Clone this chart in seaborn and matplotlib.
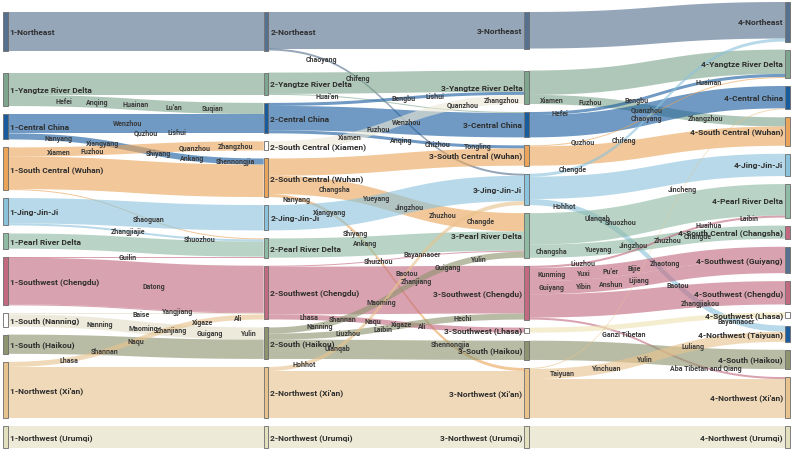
import numpy as np
import matplotlib
matplotlib.use("Agg")
import matplotlib.pyplot as plt
from matplotlib.patches import Rectangle, Polygon
import seaborn as sns

sns.set_theme(style="white")
plt.rcParams['font.family'] = ['Roboto', 'DejaVu Sans']

# regions in each of the 4 stages, top to bottom
stage1_nodes = ["Northeast", "Yangtze River Delta", "Central China", "South Central (Wuhan)",
                "Jing-Jin-Ji", "Pearl River Delta", "Southwest (Chengdu)", "South (Nanning)",
                "South (Haikou)", "Northwest (Xi'an)", "Northwest (Urumqi)"]
stage2_nodes = ["Northeast", "Yangtze River Delta", "Central China", "South Central (Xiamen)",
                "South Central (Wuhan)", "Jing-Jin-Ji", "Pearl River Delta", "Southwest (Chengdu)",
                "South (Haikou)", "Northwest (Xi'an)", "Northwest (Urumqi)"]
stage3_nodes = ["Northeast", "Yangtze River Delta", "Central China", "South Central (Wuhan)",
                "Jing-Jin-Ji", "Pearl River Delta", "Southwest (Chengdu)", "Southwest (Lhasa)",
                "South (Haikou)", "Northwest (Xi'an)", "Northwest (Urumqi)"]
stage4_nodes = ["Northeast", "Yangtze River Delta", "Central China", "South Central (Wuhan)",
                "Jing-Jin-Ji", "Pearl River Delta", "South Central (Changsha)", "Southwest (Guiyang)",
                "Southwest (Chengdu)", "Southwest (Lhasa)", "Northwest (Taiyuan)", "South (Haikou)",
                "Northwest (Xi'an)", "Northwest (Urumqi)"]

# (from, to, number of cities, cities named on the flow)
flows_12 = [
    ("Northeast", "Northeast", 38, []),
    ("Yangtze River Delta", "Yangtze River Delta", 22, []),
    ("Yangtze River Delta", "Central China", 11, ["Hefei", "Anqing", "Huainan", "Lu'an", "Suqian"]),
    ("Central China", "Central China", 17, ["Wenzhou"]),
    ("Central China", "Central China", 2, ["Quzhou", "Lishui"]),
    ("Central China", "South Central (Wuhan)", 6, ["Nanyang", "Xiangyang", "Shiyang", "Ankang", "Shennongjia"]),
    ("South Central (Wuhan)", "South Central (Xiamen)", 9, ["Xiamen", "Fuzhou", "Quanzhou", "Zhangzhou"]),
    ("South Central (Wuhan)", "South Central (Wuhan)", 32, []),
    ("South Central (Wuhan)", "Pearl River Delta", 1, ["Shaoguan"]),
    ("Jing-Jin-Ji", "Jing-Jin-Ji", 25, []),
    ("Jing-Jin-Ji", "Pearl River Delta", 2, ["Zhangjiajie", "Shuozhou"]),
    ("Pearl River Delta", "Pearl River Delta", 15, []),
    ("Southwest (Chengdu)", "Pearl River Delta", 1, ["Guilin"]),
    ("Southwest (Chengdu)", "Southwest (Chengdu)", 46, ["Datong"]),
    ("Southwest (Chengdu)", "Southwest (Chengdu)", 1, ["Yangjiang"]),
    ("South (Nanning)", "Southwest (Chengdu)", 1, ["Baise"]),
    ("South (Nanning)", "South (Haikou)", 12, ["Nanning", "Maoming", "Zhanjiang", "Guigang", "Yulin"]),
    ("South (Haikou)", "South (Haikou)", 19, []),
    ("Northwest (Xi'an)", "Southwest (Chengdu)", 5, ["Lhasa", "Shannan", "Naqu", "Xigaze", "Ali"]),
    ("Northwest (Xi'an)", "Northwest (Xi'an)", 50, []),
    ("Northwest (Urumqi)", "Northwest (Urumqi)", 22, []),
]

flows_23 = [
    ("Northeast", "Northeast", 36, []),
    ("Northeast", "Jing-Jin-Ji", 2, ["Chaoyang", "Chifeng"]),
    ("Yangtze River Delta", "Yangtze River Delta", 21, []),
    ("Yangtze River Delta", "Central China", 1, ["Huai'an"]),
    ("Central China", "Yangtze River Delta", 3, ["Bengbu", "Lishui"]),
    ("Central China", "Central China", 24, ["Wenzhou"]),
    ("Central China", "South Central (Wuhan)", 3, ["Anqing", "Chizhou", "Tongling"]),
    ("South Central (Xiamen)", "Yangtze River Delta", 9, ["Xiamen", "Fuzhou", "Quanzhou", "Zhangzhou"]),
    ("South Central (Wuhan)", "South Central (Wuhan)", 17, []),
    ("South Central (Wuhan)", "Pearl River Delta", 18, ["Changsha", "Yueyang", "Jingzhou", "Zhuzhou", "Changde"]),
    ("South Central (Wuhan)", "Northwest (Xi'an)", 3, ["Nanyang", "Xiangyang", "Shiyang", "Ankang", "Shennongjia"]),
    ("Jing-Jin-Ji", "Jing-Jin-Ji", 25, []),
    ("Pearl River Delta", "Pearl River Delta", 19, []),
    ("Southwest (Chengdu)", "Pearl River Delta", 1, ["Shuizhou"]),
    ("Southwest (Chengdu)", "Southwest (Chengdu)", 47, []),
    ("Southwest (Chengdu)", "Southwest (Lhasa)", 5, ["Lhasa", "Shannan", "Naqu", "Xigaze", "Ali"]),
    ("South (Haikou)", "Pearl River Delta", 6, ["Nanning", "Maoming", "Zhanjiang", "Guigang", "Yulin"]),
    ("South (Haikou)", "Southwest (Chengdu)", 6, ["Liuzhou", "Laibin", "Hechi"]),
    ("South (Haikou)", "South (Haikou)", 19, []),
    ("Northwest (Xi'an)", "Jing-Jin-Ji", 4, ["Hohhot", "Ulanqab", "Baotou", "Bayannaoer"]),
    ("Northwest (Xi'an)", "Northwest (Xi'an)", 46, []),
    ("Northwest (Urumqi)", "Northwest (Urumqi)", 22, []),
]

flows_34 = [
    ("Northeast", "Northeast", 36, []),
    ("Yangtze River Delta", "Yangtze River Delta", 24, []),
    ("Yangtze River Delta", "South Central (Wuhan)", 9, ["Xiamen", "Fuzhou", "Quanzhou", "Zhangzhou"]),
    ("Central China", "Yangtze River Delta", 3, ["Hefei", "Bengbu", "Huainan"]),
    ("Central China", "Central China", 22, []),
    ("South Central (Wuhan)", "Yangtze River Delta", 1, ["Quzhou"]),
    ("South Central (Wuhan)", "South Central (Wuhan)", 19, []),
    ("Jing-Jin-Ji", "Northeast", 3, ["Chengde", "Chifeng", "Chaoyang"]),
    ("Jing-Jin-Ji", "Jing-Jin-Ji", 22, []),
    ("Jing-Jin-Ji", "Northwest (Taiyuan)", 6, ["Hohhot", "Ulanqab", "Baotou", "Zhangjiakou", "Bayannaoer"]),
    ("Pearl River Delta", "Pearl River Delta", 31, ["Shuozhou"]),
    ("Pearl River Delta", "South Central (Changsha)", 13, ["Changsha", "Yueyang", "Jingzhou", "Zhuzhou", "Changde"]),
    ("Southwest (Chengdu)", "Pearl River Delta", 2, ["Liuzhou", "Huaihua", "Laibin"]),
    ("Southwest (Chengdu)", "Southwest (Guiyang)", 13, ["Kunming", "Yuxi", "Pu'er", "Bijie", "Zhaotong"]),
    ("Southwest (Chengdu)", "Southwest (Guiyang)", 13, ["Guiyang", "Yibin", "Anshun", "Lijiang"]),
    ("Southwest (Chengdu)", "Southwest (Chengdu)", 23, []),
    ("Southwest (Chengdu)", "Northwest (Xi'an)", 2, ["Ganzi Tibetan", "Aba Tibetan and Qiang"]),
    ("Southwest (Lhasa)", "Southwest (Lhasa)", 5, []),
    ("South (Haikou)", "South (Haikou)", 19, []),
    ("Northwest (Xi'an)", "Central China", 1, ["Jincheng"]),
    ("Northwest (Xi'an)", "Northwest (Taiyuan)", 10, ["Taiyuan", "Yinchuan", "Yulin", "Luliang"]),
    ("Northwest (Xi'an)", "Northwest (Xi'an)", 38, []),
    ("Northwest (Urumqi)", "Northwest (Urumqi)", 22, []),
]

# how far across the gap each city name sits
label_at = {
    (0, "Hefei"): [.22, .35, .50, .65, .80],
    (0, "Wenzhou"): [.47],
    (0, "Quzhou"): [.54, .66],
    (0, "Nanyang"): [.20, .37, .59, .72, .89],
    (0, "Xiamen"): [.20, .33, .73, .89],
    (0, "Shaoguan"): [.55],
    (0, "Zhangjiajie"): [.47, .75],
    (0, "Guilin"): [.47],
    (0, "Datong"): [.57],
    (0, "Yangjiang"): [.66],
    (0, "Baise"): [.52],
    (0, "Nanning"): [.36, .53, .64, .79, .94],
    (0, "Lhasa"): [.24, .38, .50, .76, .90],
    (1, "Chaoyang"): [.21, .35],
    (1, "Huai'an"): [.23],
    (1, "Bengbu"): [.53, .65],
    (1, "Wenzhou"): [.54],
    (1, "Anqing"): [.52, .66, .82],
    (1, "Xiamen"): [.32, .43, .76, .91],
    (1, "Changsha"): [.26, .42, .55, .68, .83],
    (1, "Nanyang"): [.11, .24, .34, .38, .71],
    (1, "Shuizhou"): [.43],
    (1, "Lhasa"): [.16, .29, .41, .52, .60],
    (1, "Nanning"): [.20, .44, .58, .70, .82],
    (1, "Liuzhou"): [.31, .45, .76],
    (1, "Hohhot"): [.14, .27, .54, .60],
    (2, "Xiamen"): [.09, .24, .46, .69],
    (2, "Hefei"): [.12, .42, .70],
    (2, "Quzhou"): [.21],
    (2, "Chengde"): [.17, .37, .46],
    (2, "Hohhot"): [.14, .27, .58, .67, .81],
    (2, "Shuozhou"): [.36],
    (2, "Changsha"): [.09, .27, .41, .54, .66],
    (2, "Liuzhou"): [.21, .70, .86],
    (2, "Kunming"): [.09, .21, .32, .41, .53],
    (2, "Guiyang"): [.09, .21, .32, .43],
    (2, "Ganzi Tibetan"): [.37, .69],
    (2, "Jincheng"): [.60],
    (2, "Taiyuan"): [.13, .30, .45, .64],
}

colors = {
    "Northeast": "#56708f",
    "Yangtze River Delta": "#7ea58d",
    "Central China": "#185c9e",
    "South Central (Wuhan)": "#eaa55a",
    "South Central (Xiamen)": "#ece8d6",
    "Jing-Jin-Ji": "#8cc3dc",
    "Pearl River Delta": "#8fbba4",
    "Southwest (Chengdu)": "#c26a80",
    "South (Nanning)": "#e2dec6",
    "South (Haikou)": "#8e946f",
    "Northwest (Xi'an)": "#e8c38d",
    "Northwest (Urumqi)": "#e3e0bf",
    "Southwest (Lhasa)": "#efe2b4",
    "South Central (Changsha)": "#c4687f",
    "Southwest (Guiyang)": "#56708f",
    "Northwest (Taiyuan)": "#185c9e",
}
white_bars = {"South (Nanning)", "South Central (Xiamen)", "Southwest (Lhasa)"}

stages = [stage1_nodes, stage2_nodes, stage3_nodes, stage4_nodes]
flows = [flows_12, flows_23, flows_34]

W, H = 796, 456
top, top_short, bottom, gap = 3, 13, 449, 8
bar_w = 4.5
bar_x = [3, 263.7, 524.3, 785]

# node sizes: the larger of inflow and outflow
size = [dict.fromkeys(st, 0) for st in stages]
for i, fl in enumerate(flows):
    out_s = {}
    in_s = {}
    for s, t, v, _ in fl:
        out_s[s] = out_s.get(s, 0) + v
        in_s[t] = in_s.get(t, 0) + v
    for n, v in out_s.items():
        size[i][n] = max(size[i][n], v)
    for n, v in in_s.items():
        size[i + 1][n] = max(size[i + 1][n], v)

k = min((bottom - top - gap * (len(st) - 1)) / sum(size[i].values()) for i, st in enumerate(stages))

pos = []
for i, st in enumerate(stages):
    p = {}
    y = bottom
    for n in reversed(st):
        h = size[i][n] * k
        p[n] = [y - h, y]
        y = y - h - gap
    first = st[0]
    if p[first][0] > top_short:
        h = p[first][1] - p[first][0]
        p[first] = [top_short, top_short + h]
    pos.append(p)


def band(xa, xb, ya0, ya1, yb0, yb1, n=80):
    s = np.linspace(0, 1, n)
    fx = 1.5 * s * (1 - s) + s ** 3
    fy = 3 * s ** 2 - 2 * s ** 3
    x = xa + (xb - xa) * fx
    return x, ya0 + (yb0 - ya0) * fy, ya1 + (yb1 - ya1) * fy


fig = plt.figure(figsize=(7.96, 4.56), dpi=100)
ax = fig.add_axes([0, 0, 1, 1])
ax.set_xlim(0, W)
ax.set_ylim(H, 0)
ax.axis('off')

city_labels = []
for i, fl in enumerate(flows):
    src_pos, dst_pos = pos[i], pos[i + 1]
    out_order = sorted(range(len(fl)), key=lambda j: (dst_pos[fl[j][1]][0], j))
    in_order = sorted(range(len(fl)), key=lambda j: (src_pos[fl[j][0]][0], j))
    y_src = {}
    used = {}
    for j in out_order:
        s = fl[j][0]
        y0 = src_pos[s][0] + used.get(s, 0)
        used[s] = used.get(s, 0) + fl[j][2] * k
        y_src[j] = (y0, y0 + fl[j][2] * k)
    y_dst = {}
    used = {}
    for j in in_order:
        t = fl[j][1]
        y0 = dst_pos[t][0] + used.get(t, 0)
        used[t] = used.get(t, 0) + fl[j][2] * k
        y_dst[j] = (y0, y0 + fl[j][2] * k)

    xa = bar_x[i] + bar_w
    xb = bar_x[i + 1]
    for j, (s, t, v, cities) in enumerate(fl):
        x, yt, yb = band(xa, xb, y_src[j][0], y_src[j][1], y_dst[j][0], y_dst[j][1])
        verts = np.vstack([np.column_stack([x, yt]), np.column_stack([x[::-1], yb[::-1]])])
        ax.add_patch(Polygon(verts, closed=True, facecolor=colors[s], alpha=0.62,
                             edgecolor='none', zorder=1))
        if cities:
            fr = label_at.get((i, cities[0]), np.linspace(0.2, 0.88, len(cities)))
            mid = (yt + yb) / 2
            for c, f in zip(cities, fr):
                xl = xa + f * (xb - xa)
                city_labels.append((xl, np.interp(xl, x, mid), c))

# node bars and names
for i, st in enumerate(stages):
    for n in st:
        y0, y1 = pos[i][n]
        face = 'white' if n in white_bars else colors[n]
        ax.add_patch(Rectangle((bar_x[i], y0), bar_w, y1 - y0, facecolor=face,
                               edgecolor='#6b6b6b', linewidth=0.6, zorder=3))
        if i < 2:
            ax.text(bar_x[i] + bar_w + 2, (y0 + y1) / 2, f"{i + 1}-{n}", ha='left', va='center',
                    fontsize=6.0, fontweight='bold', color='#2e2e2e', zorder=5)
        else:
            ax.text(bar_x[i] - 2, (y0 + y1) / 2, f"{i + 1}-{n}", ha='right', va='center',
                    fontsize=6.0, fontweight='bold', color='#2e2e2e', zorder=5)

for xl, yl, c in city_labels:
    ax.text(xl, yl, c, ha='center', va='center', fontsize=5.0, fontweight='bold',
            color='#3a3a3a', zorder=4)

fig.savefig("out.png", dpi=100)
